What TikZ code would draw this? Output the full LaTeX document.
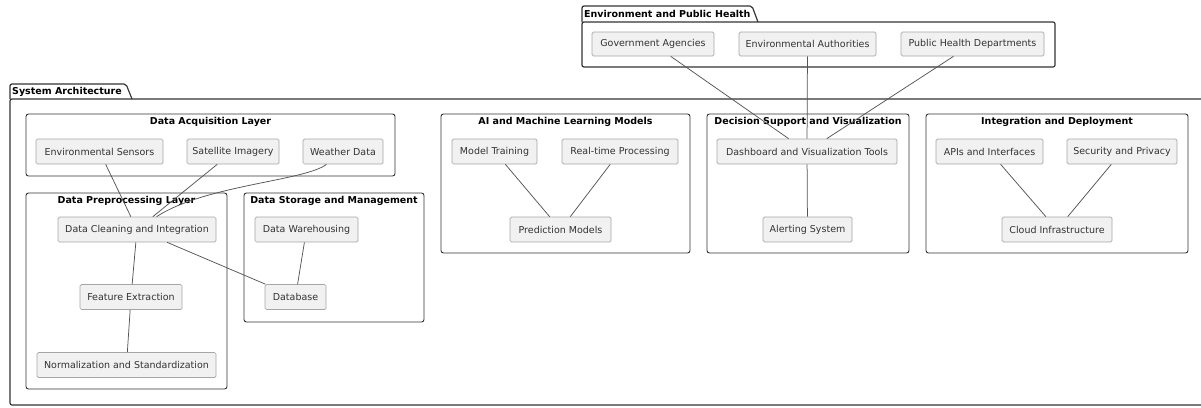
\documentclass[tikz,border=0pt]{standalone}
\usepackage{fontspec}
\setmainfont{DejaVu Sans}
\definecolor{compfill}{HTML}{F1F1F1}
\definecolor{compborder}{HTML}{A6A6A6}
\definecolor{comptext}{HTML}{333333}
\definecolor{framec}{HTML}{333333}
\definecolor{edgec}{HTML}{555555}
\begin{document}
\begin{tikzpicture}[x=1pt,y=-1pt,
  comp/.style={draw=compborder, fill=compfill, line width=0.7pt, rounded corners=1.5pt,
    minimum height=25, inner sep=0pt, text=comptext, font=\fontsize{9.5}{11}\selectfont},
  frame/.style={draw=framec, line width=0.9pt, rounded corners=2.5pt},
  pkg/.style={draw=framec, line width=1.2pt, rounded corners=2pt},
  conn/.style={draw=edgec, line width=0.75pt},
  title/.style={font=\bfseries\fontsize{9.5}{11}\selectfont, inner sep=0pt, text=black}]
\useasboundingbox (0,0) rectangle (1201,407);

% packages
\draw[pkg] (10,99) -- (1215,99) -- (1215,405) -- (10,405) -- cycle;
\draw[pkg] (10,99) -- (10,84) -- (126,84) -- (132,99);
\node[title, anchor=west] (tsys) at (12,91.5) {System Architecture};

\draw[pkg] (582,22) -- (1055,22) -- (1055,67) -- (582,67) -- cycle;
\draw[pkg] (582,22) -- (582,6) -- (752,6) -- (758,22);
\node[title, anchor=west] (tenv) at (584,14) {Environment and Public Health};

% frames
\draw[frame] (26,114) rectangle (395,176);
\node[title] (tacq) at (210.5,122) {Data Acquisition Layer};
\draw[frame] (26,193) rectangle (227,389);
\node[title] (tpre) at (126.5,200.5) {Data Preprocessing Layer};
\draw[frame] (244,193) rectangle (424,322);
\node[title] (tsto) at (334,200.5) {Data Storage and Management};
\draw[frame] (441,114) rectangle (690,253);
\node[title] (tai) at (565.5,122) {AI and Machine Learning Models};
\draw[frame] (707,114) rectangle (909,253);
\node[title] (tdec) at (808,122) {Decision Support and Visualization};
\draw[frame] (926,114) rectangle (1188,253);
\node[title] (tint) at (1057,122) {Integration and Deployment};

% components
\node[comp, minimum width=127] (envs) at (99.5,151.5) {Environmental Sensors};
\node[comp, minimum width=92] (sat) at (233,151.5) {Satellite Imagery};
\node[comp, minimum width=80] (wea) at (343,151.5) {Weather Data};
\node[comp, minimum width=158] (clean) at (137,229.5) {Data Cleaning and Integration};
\node[comp, minimum width=102] (feat) at (131,297) {Feature Extraction};
\node[comp, minimum width=179] (norm) at (126.5,365) {Normalization and Standardization};
\node[comp, minimum width=103] (ware) at (306.5,229.5) {Data Warehousing};
\node[comp, minimum width=61] (db) at (295.5,297) {Database};
\node[comp, minimum width=85] (train) at (494.5,151.5) {Model Training};
\node[comp, minimum width=116] (rt) at (620,151.5) {Real-time Processing};
\node[comp, minimum width=101] (pred) at (560.5,229.5) {Prediction Models};
\node[comp, minimum width=180] (dash) at (807,151.5) {Dashboard and Visualization Tools};
\node[comp, minimum width=89] (alert) at (807.5,229.5) {Alerting System};
\node[comp, minimum width=107] (api) at (989.5,151.5) {APIs and Interfaces};
\node[comp, minimum width=110] (sec) at (1122,151.5) {Security and Privacy};
\node[comp, minimum width=110] (cloud) at (1057,229.5) {Cloud Infrastructure};
\node[comp, minimum width=122, minimum height=24] (gov) at (653,44) {Government Agencies};
\node[comp, minimum width=137, minimum height=24] (eauth) at (807.5,44) {Environmental Authorities};
\node[comp, minimum width=143, minimum height=24] (phd) at (972.5,44) {Public Health Departments};

% connectors
\draw[conn] (envs) -- (clean);
\draw[conn] (sat) -- (clean);
\draw[conn] (wea) .. controls (305,181) and (205,185) .. (clean);
\draw[conn] (clean) -- (feat);
\draw[conn] (feat) -- (norm);
\draw[conn] (clean) -- (db);
\draw[conn] (ware) -- (db);
\draw[conn] (train) -- (pred);
\draw[conn] (rt) -- (pred);
\draw[conn] (dash) -- (alert);
\draw[conn] (api) -- (cloud);
\draw[conn] (sec) -- (cloud);
\draw[conn] (gov) -- (dash);
\draw[conn] (eauth) -- (dash);
\draw[conn] (phd) -- (dash);
\end{tikzpicture}
\end{document}
